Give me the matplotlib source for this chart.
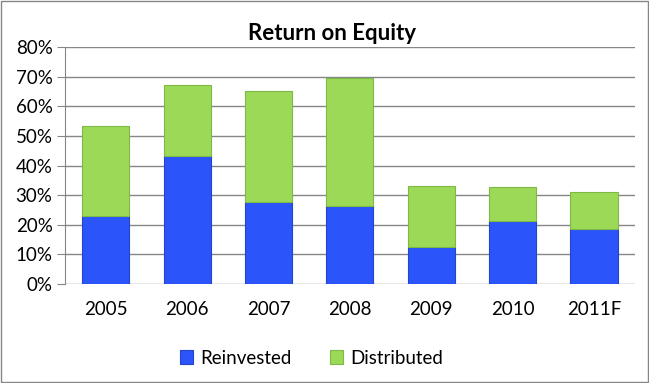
import matplotlib.pyplot as plt
from matplotlib.patches import Rectangle

# Data (fraction of equity)
years = ["2005", "2006", "2007", "2008", "2009", "2010", "2011F"]
reinvested = [0.230, 0.434, 0.277, 0.264, 0.126, 0.213, 0.185]
distributed = [0.303, 0.239, 0.374, 0.433, 0.204, 0.114, 0.127]
y_ticks = [0.0, 0.1, 0.2, 0.3, 0.4, 0.5, 0.6, 0.7, 0.8]
y_tick_labels = ["0%", "10%", "20%", "30%", "40%", "50%", "60%", "70%", "80%"]

plt.rcParams["font.family"] = ["Lato", "DejaVu Sans"]

fig = plt.figure(figsize=(6.49, 3.83), dpi=100)
ax = fig.add_axes([0.1002, 0.2585, 0.8778, 0.618])

x = list(range(len(years)))
blue = "#2b55fb"
green = "#9bd957"
ax.bar(x, reinvested, width=0.58, color=blue, edgecolor="#2445c8", linewidth=0.8,
       label="Reinvested", zorder=3)
ax.bar(x, distributed, width=0.58, bottom=reinvested, color=green,
       edgecolor="#7fb846", linewidth=0.8, label="Distributed", zorder=3)

ax.set_xlim(-0.5, len(years) - 0.5)
ax.set_ylim(0, 0.8)
ax.set_yticks(y_ticks)
ax.set_yticklabels(y_tick_labels, fontsize=13.5)
ax.set_xticks(x)
ax.set_xticklabels(years, fontsize=13.5)
ax.tick_params(axis="x", length=0, pad=12)
ax.tick_params(axis="y", length=6, color="#868686", pad=3)
ax.grid(axis="y", color="#868686", linewidth=1.0, zorder=0)
for side in ["top", "right", "bottom"]:
    ax.spines[side].set_visible(False)
ax.spines["left"].set_color("#868686")

fig.text(0.512, 0.913, "Return on Equity", ha="center", va="center",
         fontsize=16, fontweight="bold")

fig.legend(loc="center", bbox_to_anchor=(0.48, 0.065), ncol=2, frameon=False,
           fontsize=13.5, handlelength=0.7, handleheight=0.7, columnspacing=2.0,
           handletextpad=0.4)

# outer chart frame
fig.patches.append(Rectangle((0.001, 0.002), 0.997, 0.995, transform=fig.transFigure,
                             fill=False, edgecolor="#868686", linewidth=1.0))

fig.savefig("out.png", dpi=100)
